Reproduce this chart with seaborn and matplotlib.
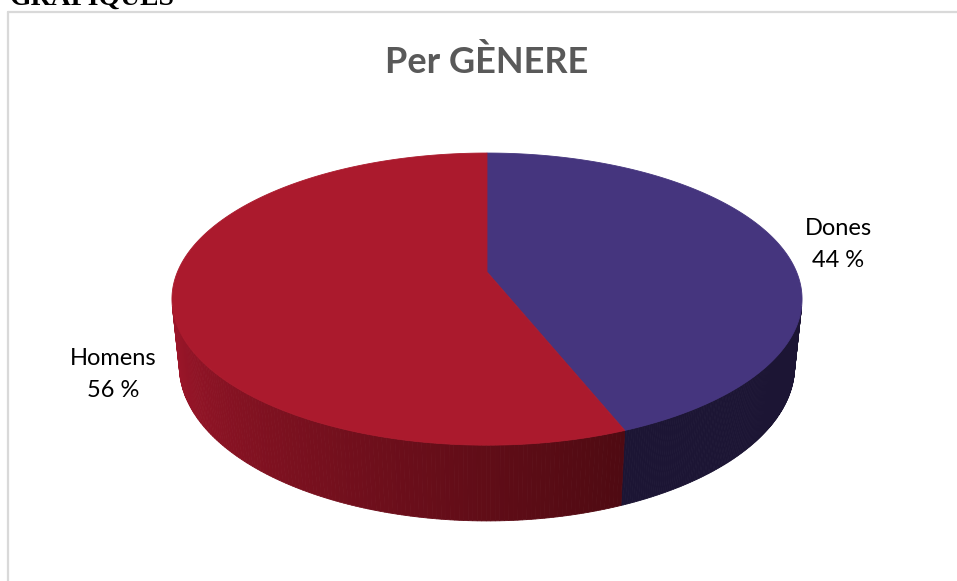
import numpy as np
import matplotlib
matplotlib.use("Agg")
import matplotlib.pyplot as plt
import seaborn as sns

# ---- data ----
categories = ["Dones", "Homens"]
values = [44, 56]
top_colors = ["#45357e", "#ab1a2d"]
side_colors_start = [(0.110, 0.082, 0.204), (0.62, 0.086, 0.165)]
side_colors_end = [(0.110, 0.082, 0.204), (0.31, 0.04, 0.07)]
title = "Per GÈNERE"
header = "GRAFIQUES"

sns.set_theme(style="white")
plt.rcParams['font.family'] = ['Lato', 'DejaVu Sans']

fig = plt.figure(figsize=(9.57, 5.81), dpi=100)
ax = fig.add_axes([0, 0, 1, 1])
ax.set_xlim(0, 957)
ax.set_ylim(581, 0)
ax.axis("off")

# ---- 3D perspective geometry (pixel space) ----
cx, cy = 487.0, 272.0          # projected pie centre
D = 4.8                        # camera distance (in pie radii)
phi = np.radians(27.1)         # elevation
f = 1486.0                     # focal scale (pixels)
h = 0.245                      # pie thickness (in radii)


def proj(theta, z):
    t = np.radians(theta)
    X, Y = np.cos(t), np.sin(t)
    dep = D + Y * np.cos(phi) - z * np.sin(phi)
    up = Y * np.sin(phi) + z * np.cos(phi)
    return cx + f * X / dep, cy - f * up / dep


alpha = np.degrees(np.arcsin(1.0 / (D * np.cos(phi))))  # visible side limit
vis_lo, vis_hi = -180.0 + alpha, -alpha

total = float(sum(values))
start = 90.0
spans = []
for v in values:
    ext = 360.0 * v / total
    spans.append((start - ext, start))  # clockwise
    start -= ext

# ---- side walls (visible front part) ----
for i, (t0, t1) in enumerate(spans):
    for shift in (0, -360, 360):
        lo, hi = t0 + shift, t1 + shift
        flo, fhi = max(lo, vis_lo), min(hi, vis_hi)
        if fhi <= flo:
            continue
        n = 140
        th = np.linspace(flo, fhi, n + 1)
        c0 = np.array(side_colors_start[i])
        c1 = np.array(side_colors_end[i])
        for j in range(n):
            fr = j / max(n - 1, 1)
            col = c0 + (c1 - c0) * fr
            xa, ya = proj(th[j], 0)
            xb, yb = proj(th[j + 1], 0)
            xc, yc = proj(th[j + 1], -h)
            xd, yd = proj(th[j], -h)
            ax.fill([xa, xb, xc, xd], [ya, yb, yc, yd], color=col,
                    lw=0.6, ec=col, zorder=2)

# ---- top faces ----
for i, (t0, t1) in enumerate(spans):
    th = np.linspace(t0, t1, 400)
    xs, ys = proj(th, 0)
    xs = np.concatenate([[cx], xs])
    ys = np.concatenate([[cy], ys])
    ax.fill(xs, ys, color=top_colors[i], lw=0.6, ec=top_colors[i], zorder=3)

# ---- labels ----
label_pos = {"Dones": (838, 235), "Homens": (113, 365)}
for cat, v in zip(categories, values):
    x, y = label_pos[cat]
    ax.text(x, y, cat, ha="center", va="baseline", fontsize=17, color="#000000")
    ax.text(x, y + 32, f"{v} %", ha="center", va="baseline", fontsize=17, color="#000000")

# ---- title & header ----
ax.text(487, 73, title, ha="center", va="baseline", fontsize=26,
        fontweight="bold", color="#595959")
ax.text(10, 5, header, ha="left", va="baseline", fontsize=20, fontweight="bold",
        family=["Liberation Serif", "DejaVu Serif"], color="#000000")

# ---- chart frame ----
ax.plot([8, 8], [12, 600], color="#d9d9d9", lw=1.6, clip_on=False, zorder=1)
ax.plot([8, 1000], [12, 12], color="#d9d9d9", lw=1.6, clip_on=False, zorder=1)

fig.savefig("out.png", dpi=100, facecolor="white")
